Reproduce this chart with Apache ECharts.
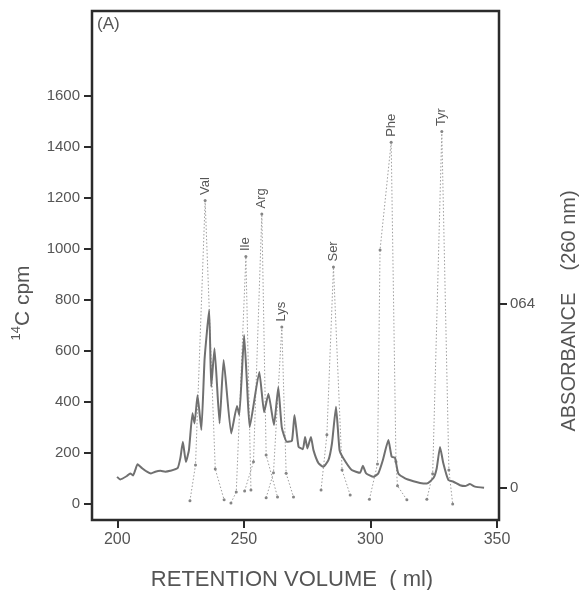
<!DOCTYPE html>
<html><head><meta charset="utf-8">
<script src="https://cdn.jsdelivr.net/npm/echarts@6/dist/echarts.min.js"></script>
<style>html,body{margin:0;padding:0;background:#fff}#c{width:581px;height:590px}</style>
</head><body><div id="c"></div>
<script>
// Absorbance trace (260 nm), right axis
const traceVolume = [199.9,201.2,203.8,205.1,206.2,207.1,208.0,209.8,211.7,213.3,215.0,217.0,218.9,220.9,223.8,224.9,225.9,227.1,228.3,229.7,230.5,231.7,233.2,234.5,236.3,237.1,238.4,240.4,242.0,245.0,247.3,248.2,250.1,251.2,252.3,256.1,258.0,259.7,261.9,263.6,265.0,267.0,269.0,270.0,271.6,273.3,274.2,275.1,276.5,277.5,279.5,281.4,283.4,284.8,286.4,287.8,289.3,292.6,295.9,297.0,298.3,301.2,303.1,304.9,307.1,308.4,309.7,311.0,313.7,317.0,319.6,322.3,324.9,326.2,327.5,328.8,330.8,332.8,335.4,337.4,339.3,341.3,344.9];
const traceAbsorbance = [0.039,0.030,0.042,0.051,0.044,0.063,0.083,0.069,0.057,0.051,0.057,0.060,0.057,0.060,0.069,0.104,0.161,0.091,0.132,0.260,0.225,0.323,0.202,0.451,0.619,0.352,0.486,0.225,0.445,0.190,0.285,0.254,0.532,0.370,0.212,0.404,0.264,0.328,0.219,0.351,0.210,0.161,0.165,0.254,0.144,0.135,0.178,0.138,0.178,0.132,0.086,0.074,0.097,0.155,0.283,0.132,0.104,0.063,0.053,0.078,0.051,0.039,0.051,0.097,0.167,0.109,0.106,0.051,0.034,0.024,0.018,0.016,0.035,0.069,0.143,0.086,0.028,0.022,0.010,0.007,0.014,0.005,0.001];

// 14C cpm profiles of the aminoacyl-tRNA peaks, left axis
const peakNames = ['Val','Ile','Arg','Lys','Ser','Phe','Tyr'];
const valVolume = [228.7,230.9,234.7,238.7,242.2];
const valCpm    = [12,153,1190,137,16];
const ileVolume = [244.9,247.0,250.8,252.8];
const ileCpm    = [4,47,970,55];
const argVolume = [250.3,253.8,257.1,258.8,263.3];
const argCpm    = [51,165,1137,192,27];
const lysVolume = [258.8,261.7,265.0,266.7,269.6];
const lysCpm    = [24,122,694,120,27];
const serVolume = [280.5,282.8,285.4,288.8,292.0];
const serCpm    = [55,271,929,133,35];
const pheVolume = [299.6,302.8,303.8,308.2,310.1,310.7,314.4];
const pheCpm    = [18,157,996,1418,165,71,16];
const tyrVolume = [322.3,324.6,328.2,331.0,332.5];
const tyrCpm    = [18,118,1460,133,0];

const xTicks = [200,250,300,350];
const cpmTicks = [0,200,400,600,800,1000,1200,1400,1600];
const absTicks = [0,0.64];
const absTickLabels = ['0','064'];

const peakVolumes = [valVolume,ileVolume,argVolume,lysVolume,serVolume,pheVolume,tyrVolume];
const peakCpms = [valCpm,ileCpm,argCpm,lysCpm,serCpm,pheCpm,tyrCpm];

const TXT = '#555';
const FRAME = '#2b2b2b';
const FONT = 'Liberation Sans, Arial, sans-serif';

const peakSeries = peakNames.map((name, k) => {
  const vols = peakVolumes[k], cpms = peakCpms[k];
  const maxI = cpms.indexOf(Math.max(...cpms));
  return {
    name: name, type: 'line', yAxisIndex: 0, z: 2,
    symbol: 'circle', symbolSize: 3, showSymbol: true,
    itemStyle: { color: '#858585' },
    lineStyle: { color: '#9e9e9e', width: 1, type: [1.5, 2] },
    label: { show: false },
    emphasis: { disabled: true },
    data: vols.map((v, i) => {
      const it = { value: [v, cpms[i]] };
      if (i === maxI) {
        it.label = { show: true, formatter: name, position: 'top', distance: 4, rotate: 90,
          align: 'left', verticalAlign: 'middle', color: TXT, fontSize: 13, fontFamily: FONT };
      }
      return it;
    })
  };
});

const tickStyle = { show: true, length: 8, lineStyle: { color: FRAME, width: 2 } };

const chart = echarts.init(document.getElementById('c'), null, { renderer: 'canvas' });
chart.setOption({
  animation: false,
  backgroundColor: '#fff',
  grid: { left: 92, right: 82, top: 11, bottom: 70, containLabel: false, outerBoundsMode: 'none',
          show: true, borderColor: FRAME, borderWidth: 2.5, backgroundColor: 'transparent' },
  xAxis: {
    type: 'value', min: 190, max: 350.8, position: 'bottom',
    axisLine: { show: false, onZero: false },
    splitLine: { show: false },
    axisTick: Object.assign({ customValues: xTicks }, tickStyle),
    axisLabel: { color: TXT, fontSize: 16, fontFamily: FONT, margin: 12, customValues: xTicks,
      formatter: v => String(v) }
  },
  yAxis: [
    {
      type: 'value', min: -63, max: 1933, position: 'left',
      axisLine: { show: false, onZero: false }, splitLine: { show: false },
      axisTick: Object.assign({ customValues: cpmTicks }, tickStyle),
      axisLabel: { color: TXT, fontSize: 15, fontFamily: FONT, margin: 12, customValues: cpmTicks,
        formatter: v => String(v) }
    },
    {
      type: 'value', min: -0.111, max: 1.659, position: 'right',
      axisLine: { show: false, onZero: false }, splitLine: { show: false },
      axisTick: Object.assign({ customValues: absTicks }, tickStyle),
      axisLabel: { color: TXT, fontSize: 15, fontFamily: FONT, margin: 11, customValues: absTicks,
        formatter: v => { const i = absTicks.indexOf(v); return i >= 0 ? absTickLabels[i] : String(v); } }
    }
  ],
  series: [
    {
      name: 'Absorbance', type: 'line', yAxisIndex: 1, z: 3,
      showSymbol: false, smooth: 0.15,
      lineStyle: { color: '#707070', width: 2 },
      emphasis: { disabled: true },
      data: traceVolume.map((v, i) => [v, traceAbsorbance[i]])
    },
    ...peakSeries
  ],
  graphic: [
    { type: 'text', left: 97, top: 16, style: { text: '(A)', fill: TXT, font: '17px ' + FONT } },
    { type: 'text', x: 23, y: 303, rotation: Math.PI / 2,
      style: { text: '{s|14}{m|C cpm}', fill: TXT, align: 'center', verticalAlign: 'middle',
        textAlign: 'center', textVerticalAlign: 'middle',
        rich: { s: { fontSize: 13, fontFamily: FONT, fill: TXT, verticalAlign: 'top', lineHeight: 12 },
                m: { fontSize: 21, fontFamily: FONT, fill: TXT, lineHeight: 26 } } } },
    { type: 'text', x: 569, y: 311, rotation: Math.PI / 2,
      style: { text: 'ABSORBANCE    (260 nm)', fill: TXT, font: '20px ' + FONT,
        align: 'center', verticalAlign: 'middle', textAlign: 'center', textVerticalAlign: 'middle' } },
    { type: 'text', x: 292, y: 580,
      style: { text: 'RETENTION VOLUME  ( ml)', fill: TXT, font: '22px ' + FONT,
        align: 'center', verticalAlign: 'middle', textAlign: 'center', textVerticalAlign: 'middle' } }
  ]
});
</script></body></html>
